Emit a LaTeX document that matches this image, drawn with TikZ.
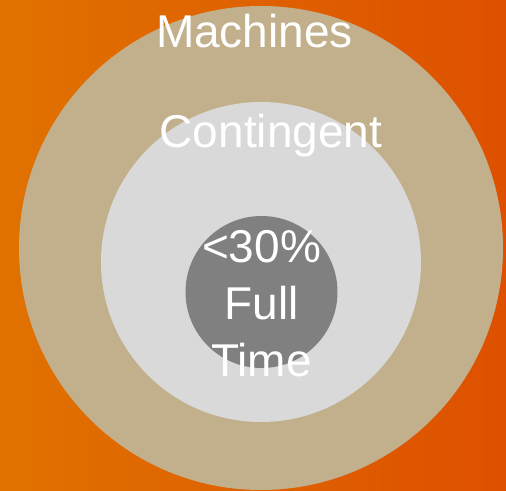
\documentclass[tikz,border=0pt]{standalone}
\usepackage{fontspec}
\setmainfont{Liberation Sans}
\usepackage{xcolor}
\usetikzlibrary{positioning}
\definecolor{bgleft}{RGB}{224, 114, 0}
\definecolor{bgright}{RGB}{222, 80, 0}
\definecolor{ringtan}{RGB}{194, 176, 140}
\definecolor{ringlight}{RGB}{217, 217, 217}
\definecolor{coregray}{RGB}{128, 128, 128}
\tikzset{label text/.style={text=white, inner sep=0pt, anchor=base, font=\fontsize{46}{55}\selectfont}}

\begin{document}
\begin{tikzpicture}[x=1pt, y=1pt]
    \useasboundingbox (0,0) rectangle (506,490);
    \shade[left color=bgleft, right color=bgright] (0,0) rectangle (506,490);

    \def\cx{261}
    \draw [fill = ringtan, draw = none] (\cx, 242) circle (242);
    \draw [fill = ringlight, draw = none] (\cx, 228) circle (160);
    \draw [fill = coregray, draw = none] (261.5, 198) circle (76);

    \node[label text] (machines) at (254.5, 442) {Machines};
    \node[label text] (contingent) at (271, 342) {Contingent};
    \node[label text] (share) at (261.5, 227) {<30\%};
    \node[label text] (full) at (261.5, 170) {Full};
    \node[label text] (time) at (261.5, 113) {Time};

\end{tikzpicture}
\end{document}
